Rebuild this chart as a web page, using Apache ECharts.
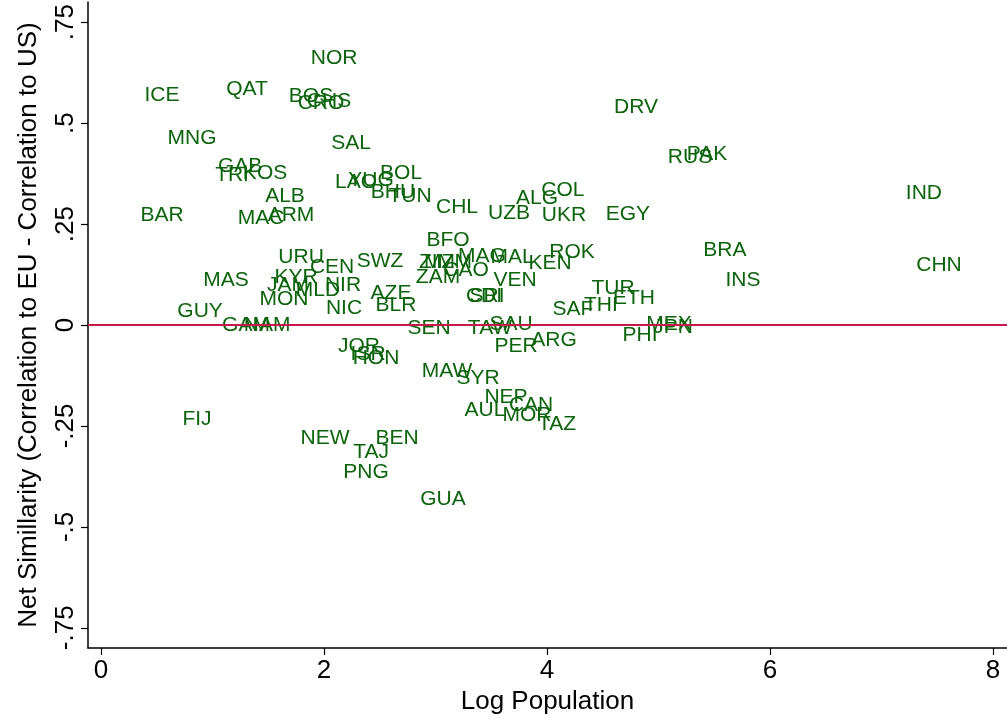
<!DOCTYPE html>
<html>
<head>
<meta charset="utf-8">
<style>
  html, body { margin: 0; padding: 0; background: #fff; }
  #chart { width: 1007px; height: 723px; }
</style>
<script src="https://cdn.jsdelivr.net/npm/echarts@6/dist/echarts.min.js"></script>
</head>
<body>
<div id="chart"></div>
<script>
// Country codes, log population and net similarity (EU correlation minus US correlation)
const countries = ['NOR','ICE','QAT','BOS','CRO','CHS','DRV','MNG','SAL','RUS','PAK','GAB','TRI','KOS','IND','BOL','YUG','LAO','BHU','TUN','ALB','CHL','ALG','COL','UZB','UKR','EGY','BAR','MAC','ARM','BFO','ROK','BRA','CHN','URU','CEN','SWZ','ZIM','MZM','ZAM','MAG','MAL','CAO','KEN','VEN','MAS','INS','KYR','JAM','MLD','NIR','MON','NIC','AZE','BLR','CDI','SRI','GUY','GAM','NAM','TUR','ETH','THI','SAF','PHI','MEX','JPN','SEN','TAW','SAU','PER','ARG','JOR','ISR','HON','MAW','SYR','NEP','CAN','AUL','MOR','TAZ','FIJ','NEW','BEN','TAJ','PNG','GUA'];
const logPopulation = [2.090,0.547,1.309,1.883,1.973,2.045,4.798,0.816,2.242,5.283,5.435,1.247,1.175,1.471,7.381,2.691,2.422,2.287,2.619,2.771,1.650,3.193,3.910,4.143,3.659,4.152,4.726,0.547,1.435,1.704,3.112,4.224,5.596,7.516,1.794,2.072,2.502,3.013,3.112,3.022,3.417,3.686,3.274,4.027,3.713,1.121,5.758,1.749,1.677,1.946,2.170,1.641,2.179,2.601,2.646,3.435,3.462,0.888,1.300,1.489,4.592,4.780,4.484,4.233,4.834,5.094,5.130,2.942,3.489,3.677,3.722,4.063,2.314,2.395,2.466,3.103,3.381,3.632,3.857,3.444,3.821,4.090,0.861,2.009,2.655,2.422,2.377,3.067];
const netSimilarity = [0.661,0.569,0.584,0.567,0.550,0.554,0.540,0.463,0.450,0.416,0.423,0.394,0.371,0.376,0.327,0.376,0.359,0.354,0.329,0.319,0.319,0.292,0.314,0.334,0.277,0.272,0.275,0.272,0.265,0.272,0.210,0.181,0.186,0.149,0.168,0.144,0.158,0.156,0.156,0.119,0.171,0.168,0.136,0.153,0.111,0.111,0.111,0.119,0.099,0.087,0.099,0.064,0.042,0.079,0.050,0.072,0.072,0.035,0.000,0.000,0.092,0.067,0.050,0.040,-0.025,0.002,-0.005,-0.007,-0.007,0.002,-0.052,-0.037,-0.052,-0.072,-0.082,-0.114,-0.131,-0.178,-0.198,-0.210,-0.223,-0.245,-0.233,-0.280,-0.280,-0.314,-0.364,-0.431];

// Axis ticks
const xTicks = [0, 2, 4, 6, 8];
const yTicks = [-0.75, -0.5, -0.25, 0, 0.25, 0.5, 0.75];

const FONT = '"Liberation Sans", Arial, Helvetica, sans-serif';
const GREEN = '#0b640b';
const LINE_RED = '#c8194b';

function fmtY(v) {
  if (Math.abs(v) < 1e-9) return '0';
  const s = String(Math.abs(v)).replace(/^0/, '');
  return (v < 0 ? '-' : '') + s;
}

const points = countries.map((c, i) => ({ name: c, value: [logPopulation[i], netSimilarity[i]] }));

const chart = echarts.init(document.getElementById('chart'), null, { renderer: 'canvas' });
chart.setOption({
  animation: false,
  backgroundColor: '#ffffff',
  grid: { left: 88, right: 0, top: 2, bottom: 75, containLabel: false },
  xAxis: {
    type: 'value',
    min: -0.117,
    max: 8.126,
    name: 'Log Population',
    nameLocation: 'middle',
    nameGap: 38,
    nameTextStyle: { fontFamily: FONT, fontSize: 26, color: '#000' },
    splitLine: { show: false },
    axisLine: { show: true, onZero: false, lineStyle: { color: '#000', width: 1.5 } },
    axisTick: { show: true, length: 7, customValues: xTicks, lineStyle: { color: '#000', width: 1.2 } },
    axisLabel: { customValues: xTicks, margin: 10, fontFamily: FONT, fontSize: 26, color: '#000' }
  },
  yAxis: {
    type: 'value',
    min: -0.8,
    max: 0.8,
    name: 'Net Simillarity (Correlation to EU - Correlation to US)',
    nameLocation: 'middle',
    nameRotate: 90,
    nameGap: 46,
    nameTextStyle: { fontFamily: FONT, fontSize: 26, color: '#000' },
    splitLine: { show: false },
    axisLine: { show: true, onZero: false, lineStyle: { color: '#000', width: 1.5 } },
    axisTick: { show: true, length: 7, customValues: yTicks, lineStyle: { color: '#000', width: 1.2 } },
    axisLabel: {
      customValues: yTicks, rotate: 90, margin: 9,
      fontFamily: FONT, fontSize: 26, color: '#000',
      formatter: fmtY
    }
  },
  series: [{
    type: 'scatter',
    data: points,
    symbol: 'circle',
    symbolSize: 1,
    itemStyle: { color: 'rgba(255,255,255,0)' },
    label: {
      show: true,
      position: 'inside',
      offset: [0, 1],
      formatter: p => p.name,
      fontFamily: FONT,
      fontSize: 21,
      color: GREEN,
      textBorderWidth: 0,
      textBorderColor: 'transparent',
      opacity: 1
    },
    labelLayout: { hideOverlap: false },
    markLine: {
      silent: true,
      symbol: 'none',
      label: { show: false },
      lineStyle: { color: LINE_RED, width: 2, type: 'solid' },
      data: [{ yAxis: 0 }]
    },
    z: 3
  }]
});
</script>
</body>
</html>
